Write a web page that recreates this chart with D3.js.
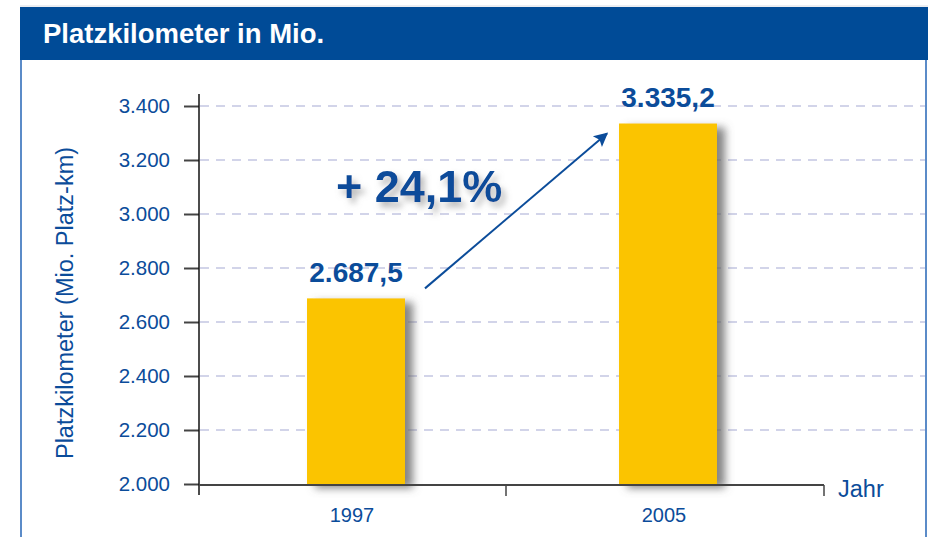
<!DOCTYPE html>
<html lang="de">
<head>
<meta charset="UTF-8">
<script src="https://cdn.jsdelivr.net/npm/d3@7"></script>
<style>
  * { margin: 0; padding: 0; }
  body { background: #fff; }
  text { font-family: "Liberation Sans", Arial, sans-serif; }
</style>
<title>Platzkilometer</title>
</head>
<body>
<script>
  const width = 928;
  const height = 537;

  // data
  const years = ["1997", "2005"];
  const values = [2687.5, 3335.2];
  const yTicks = [2000, 2200, 2400, 2600, 2800, 3000, 3200, 3400];
  const title = "Platzkilometer in Mio.";
  const yTitle = "Platzkilometer (Mio. Platz-km)";
  const xTitle = "Jahr";
  const changeLabel = "+ 24,1%";

  const blue = "#0b4c9a";
  const de = d3.formatLocale({ decimal: ",", thousands: ".", grouping: [3], currency: ["", " €"] });

  const svg = d3.select("body").append("svg")
    .attr("width", width)
    .attr("height", height);

  const defs = svg.append("defs");
  const shadow = defs.append("filter").attr("id", "shadow")
    .attr("x", "-20%").attr("y", "-20%").attr("width", "160%").attr("height", "140%");
  shadow.append("feGaussianBlur").attr("in", "SourceAlpha").attr("stdDeviation", 4);
  shadow.append("feOffset").attr("dx", 8).attr("dy", 4).attr("result", "off");
  shadow.append("feFlood").attr("flood-color", "#666").attr("flood-opacity", 0.8);
  shadow.append("feComposite").attr("in2", "off").attr("operator", "in");
  const m1 = shadow.append("feMerge");
  m1.append("feMergeNode");
  m1.append("feMergeNode").attr("in", "SourceGraphic");

  const tshadow = defs.append("filter").attr("id", "tshadow")
    .attr("x", "-20%").attr("y", "-30%").attr("width", "150%").attr("height", "170%");
  tshadow.append("feGaussianBlur").attr("in", "SourceAlpha").attr("stdDeviation", 3);
  tshadow.append("feOffset").attr("dx", 4).attr("dy", 5).attr("result", "off");
  tshadow.append("feFlood").attr("flood-color", "#888").attr("flood-opacity", 0.6);
  tshadow.append("feComposite").attr("in2", "off").attr("operator", "in");
  const m2 = tshadow.append("feMerge");
  m2.append("feMergeNode");
  m2.append("feMergeNode").attr("in", "SourceGraphic");

  defs.append("marker").attr("id", "arrow")
    .attr("viewBox", "0 0 10 10").attr("refX", 9).attr("refY", 5)
    .attr("orient", "auto")
    .attr("markerUnits", "userSpaceOnUse")
    .attr("markerWidth", 18).attr("markerHeight", 14)
    .append("path").attr("d", "M0,0 L10,5 L0,10 L2,5 Z").attr("fill", blue);

  // frame
  svg.append("line").attr("x1", 20).attr("x2", width).attr("y1", 6).attr("y2", 6)
    .attr("stroke", "#d8dce4").attr("stroke-width", 1);
  svg.append("rect").attr("x", 20).attr("y", 7).attr("width", width - 20).attr("height", 53)
    .attr("fill", "#004b97");
  svg.append("text").attr("x", 43).attr("y", 43)
    .attr("fill", "#fff").attr("font-weight", "bold").attr("font-size", 27.5)
    .text(title);
  svg.append("line").attr("x1", 21).attr("x2", 21).attr("y1", 60).attr("y2", height)
    .attr("stroke", "#5b8bc8").attr("stroke-width", 2);
  svg.append("line").attr("x1", 926).attr("x2", 926).attr("y1", 60).attr("y2", height)
    .attr("stroke", "#5b8bc8").attr("stroke-width", 2);

  // scales
  const y = d3.scaleLinear().domain([2000, 3400]).range([484, 106]);
  const x = d3.scaleBand().domain(years).range([200, 824]).paddingInner(0.686).paddingOuter(0.343);

  // grid
  svg.append("g").selectAll("line").data(yTicks.slice(1)).join("line")
    .attr("x1", 200).attr("x2", 925)
    .attr("y1", d => y(d)).attr("y2", d => y(d))
    .attr("stroke", "#c3c6e2").attr("stroke-width", 1.5)
    .attr("stroke-dasharray", "9,7");

  // y axis
  const yAxis = svg.append("g").attr("transform", "translate(199,0)")
    .call(d3.axisLeft(y).tickValues(yTicks).tickSize(15).tickPadding(14).tickFormat(de.format(",.0f")));
  yAxis.select(".domain").remove();
  yAxis.selectAll(".tick line").attr("stroke", "#444").attr("stroke-width", 2);
  yAxis.selectAll(".tick text").attr("fill", blue).attr("font-size", 20.5)
    .attr("font-family", "'Liberation Sans', Arial, sans-serif");
  svg.append("line").attr("x1", 199).attr("x2", 199).attr("y1", 94).attr("y2", 495)
    .attr("stroke", "#111").attr("stroke-width", 1.5);

  svg.append("text")
    .attr("transform", `translate(73,${(y(2000) + y(3400)) / 2 + 8}) rotate(-90)`)
    .attr("text-anchor", "middle").attr("fill", blue).attr("font-size", 23.5)
    .text(yTitle);

  // bars
  svg.append("g").selectAll("rect").data(values).join("rect")
    .attr("x", (d, i) => x(years[i]))
    .attr("width", x.bandwidth())
    .attr("y", d => y(d))
    .attr("height", d => y(2000) - y(d))
    .attr("fill", "#fbc400")
    .attr("filter", "url(#shadow)");

  // x axis
  const xAxisY = y(2000) + 1;
  svg.append("line").attr("x1", 199).attr("x2", 824).attr("y1", xAxisY).attr("y2", xAxisY)
    .attr("stroke", "#444").attr("stroke-width", 2);
  const bounds = years.map((d, i) => x(d) + x.bandwidth() + x.step() * x.paddingInner() / 2 - (i === 0 ? 6 : 0));
  svg.append("g").selectAll("line").data(bounds).join("line")
    .attr("x1", d => d).attr("x2", d => d)
    .attr("y1", xAxisY).attr("y2", xAxisY + 11)
    .attr("stroke", "#444").attr("stroke-width", 1.5);
  svg.append("g").selectAll("text").data(years).join("text")
    .attr("x", d => x(d) + x.bandwidth() / 2 - 4)
    .attr("y", 522)
    .attr("text-anchor", "middle").attr("fill", blue).attr("font-size", 20)
    .text(d => d);
  svg.append("text").attr("x", 838).attr("y", 497)
    .attr("fill", blue).attr("font-size", 23.5)
    .text(xTitle);

  // value labels
  svg.append("g").selectAll("text").data(values).join("text")
    .attr("x", (d, i) => x(years[i]) + x.bandwidth() / 2)
    .attr("y", d => y(d) - 16)
    .attr("text-anchor", "middle").attr("fill", blue)
    .attr("font-weight", "bold").attr("font-size", 28)
    .text(d => de.format(",.1f")(d));

  // change arrow
  const x0 = x(years[0]) + x.bandwidth() + 20;
  const x1 = x(years[1]) - 12;
  svg.append("line")
    .attr("x1", x0).attr("y1", y(values[0]) - 10)
    .attr("x2", x1).attr("y2", y(values[1]) + 10)
    .attr("stroke", blue).attr("stroke-width", 2)
    .attr("marker-end", "url(#arrow)");

  svg.append("text").attr("x", 336).attr("y", 202)
    .attr("fill", blue).attr("font-weight", "bold").attr("font-size", 45)
    .attr("filter", "url(#tshadow)")
    .text(changeLabel);
</script>
</body>
</html>
